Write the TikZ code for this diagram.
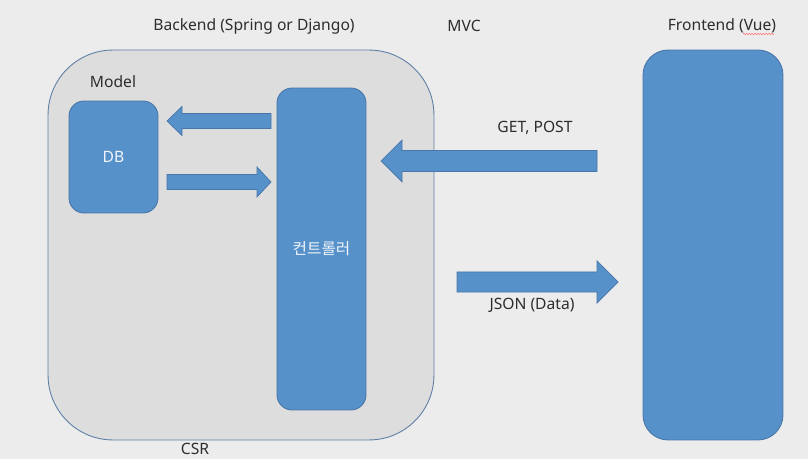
\documentclass[tikz,border=0pt]{standalone}
\usepackage{fontspec}
\setmainfont{Noto Sans}
\newfontfamily\krfont{Noto Sans CJK KR}
\usetikzlibrary{decorations.pathmorphing}

% horizontal block arrow: tail x, head base x, tip x, centre y, shaft half, head half
\newcommand{\blockarrow}[6]{%
  \filldraw[blockfill] (#1,#4-#5) -- (#2,#4-#5) -- (#2,#4-#6) -- (#3,#4)
    -- (#2,#4+#6) -- (#2,#4+#5) -- (#1,#4+#5) -- cycle;}

\begin{document}
\begin{tikzpicture}[x=0.02cm, y=-0.02cm, font=\fontsize{8.9}{11}\selectfont]
        \definecolor{bggray}{RGB}{236,236,236}
        \definecolor{panelgray}{RGB}{221,221,221}
        \definecolor{paneledge}{RGB}{92,126,164}
        \definecolor{boxblue}{RGB}{87,145,201}
        \definecolor{boxedge}{RGB}{72,118,168}
        \definecolor{labelgray}{RGB}{45,45,45}

        \tikzset{
            bluebox/.style={draw=boxedge, fill=boxblue, line width=0.5pt, text=white!92!boxblue},
            blockfill/.style={draw=boxedge, fill=boxblue, line width=0.4pt},
            label/.style={text=labelgray, inner sep=1pt}
        }

        \useasboundingbox (0,0) rectangle (808,459);
        \fill[bggray] (0,0) rectangle (808,459);

        % Boxes
        \node[draw=paneledge, fill=panelgray, line width=0.5pt, rounded corners=1.3cm,
              minimum width=7.72cm, minimum height=7.8cm] (backendbox) at (241,245) {};
        \node[bluebox, rounded corners=0.3cm, minimum width=1.78cm, minimum height=2.24cm] (db) at (113.5,157) {DB};
        \node[bluebox, rounded corners=0.3cm, minimum width=1.78cm, minimum height=6.44cm] (ctrl) at (321.5,249) {\krfont 컨트롤러};
        \node[bluebox, rounded corners=0.5cm, minimum width=2.8cm, minimum height=7.8cm] (frontbox) at (713,245) {};

        % Block arrows
        \blockarrow{271}{182}{167}{121}{7.5}{14.5}
        \blockarrow{167}{257}{271}{182}{7.5}{15}
        \blockarrow{597}{402}{381}{161}{10.5}{21}
        \blockarrow{457}{597}{618}{282}{10}{21}

        % Labels
        \node[label] (backend) at (254,26) {Backend (Spring or Django)};
        \node[label] (mvc) at (464,26) {MVC};
        \node[label] (frontend) at (722,26) {Frontend (Vue)};
        \node[label] (model) at (113,82) {Model};
        \node[label] (getpost) at (535,128) {GET, POST};
        \node[label] (json) at (532,305) {JSON (Data)};
        \node[label] (csr) at (195,449) {CSR};

        % spell-check mark under Vue
        \draw[red!55, line width=0.3pt, decorate, decoration={zigzag, amplitude=0.4pt, segment length=1.6pt}]
            (743,34) -- (774,34);
\end{tikzpicture}
\end{document}
